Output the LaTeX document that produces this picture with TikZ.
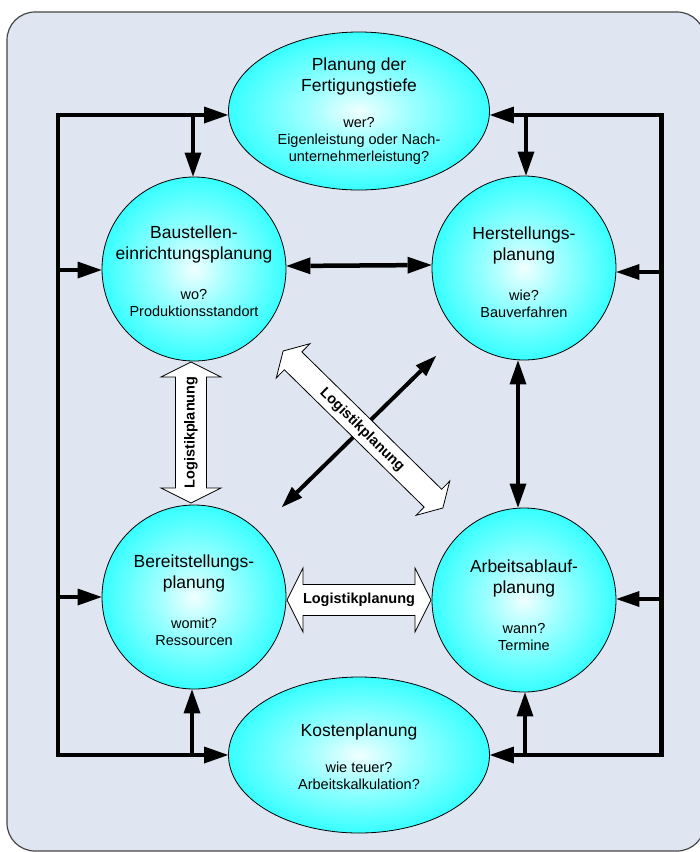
\documentclass[tikz,border=0pt]{standalone}
\usepackage{fontspec}
\setmainfont{Liberation Sans}
\usetikzlibrary{arrows.meta,shapes.geometric,calc}

\definecolor{panel}{RGB}{224,230,241}
\definecolor{panelrule}{RGB}{70,70,70}

% cyan ball with a pale centre
\pgfdeclareradialshading{glow}{\pgfpoint{0bp}{0bp}}{%
  rgb(0bp)=(0.94,1,1); rgb(10bp)=(0.62,1,1); rgb(33bp)=(0,1,1); rgb(50bp)=(0,1,1)}

\newcommand\headfont{\fontsize{17.5}{21}\selectfont}
\newcommand\notefont{\fontsize{14.5}{17}\selectfont}

\tikzset{
  ball/.style={circle, draw=black, line width=0.8pt, shading=glow,
    minimum size=184pt, inner sep=0pt},
  egg/.style={ellipse, draw=black, line width=0.8pt, shading=glow,
    minimum width=261pt, minimum height=158pt, inner sep=0pt},
  caption/.style={align=center, inner sep=0pt, font=\notefont},
  flow/.style={line width=4.5pt, line join=miter,
    -{Triangle[length=24pt,width=17pt,line width=0pt]}},
  thinflow/.style={line width=3.5pt,
    -{Triangle[length=23pt,width=16pt,line width=0pt]}},
  both/.style={line width=4.5pt,
    {Triangle[length=24pt,width=17pt,line width=0pt]}-{Triangle[length=24pt,width=17pt,line width=0pt]}},
  slimboth/.style={line width=4pt,
    {Triangle[length=21pt,width=15pt,line width=0pt]}-{Triangle[length=21pt,width=15pt,line width=0pt]}},
  blockarrow/.style={draw=black, fill=white, line width=0.8pt, line join=miter},
  blocktext/.style={font=\bfseries\notefont, inner sep=0pt}
}

\begin{document}
\begin{tikzpicture}[x=1pt,y=-1pt]
\useasboundingbox (0,0) rectangle (700,852);
\clip (0,0) rectangle (700,852);
\fill[white] (0,0) rectangle (700,852);

% panel
\draw[panelrule, line width=1.2pt, fill=panel, rounded corners=28pt]
  (7,12) rectangle (705,851);

% planning fields
\node[egg]  (top) at (359,111) {};
\node[ball] (bau) at (194,269) {};
\node[ball] (her) at (524,268) {};
\node[ball] (ber) at (194,597) {};
\node[ball] (arb) at (524,600) {};
\node[egg, minimum height=156pt] (kos) at (359,755) {};

\node[caption] (top-text) at (359,111.4)
  {{\headfont Planung der}\\[4pt]{\headfont Fertigungstiefe}\\[19.5pt]wer?\\Eigenleistung oder Nach-\\unternehmerleistung?};
\node[caption] (bau-text) at (194,271.1)
  {{\headfont Baustellen-}\\[4pt]{\headfont einrichtungsplanung}\\[23pt]wo?\\Produktionsstandort};
\node[caption] (her-text) at (524,272)
  {{\headfont Herstellungs-}\\[4pt]{\headfont planung}\\[23pt]wie?\\Bauverfahren};
\node[caption] (ber-text) at (194,600.1)
  {{\headfont Bereitstellungs-}\\[4pt]{\headfont planung}\\[23pt]womit?\\Ressourcen};
\node[caption] (arb-text) at (524,605.1)
  {{\headfont Arbeitsablauf-}\\[4pt]{\headfont planung}\\[23pt]wann?\\Termine};
\node[caption] (kos-text) at (359,756.9)
  {{\headfont Kostenplanung}\\[19.5pt]wie teuer?\\Arbeitskalkulation?};

% outer feedback loop
\coordinate (tl) at (58,115);
\coordinate (bl) at (58,755);
\coordinate (tr) at (661.5,115);
\coordinate (br) at (661.5,755);

\draw[flow] (bl) -- (tl) -- (tl -| top.west);
\draw[flow] (tl) -- (bl) -- (bl -| kos.west);
\draw[flow] (br) -- (tr) -- (tr -| top.east);
\draw[flow] (tr) -- (br) -- (br -| kos.east);

\coordinate (tlb) at (193,115);
\coordinate (blb) at (192,755);
\coordinate (trb) at (526,115);
\coordinate (brb) at (525,755);
\draw[flow] (tlb) -- (tlb |- bau.north);
\draw[flow] (blb) -- (blb |- ber.south);
\draw[flow] (trb) -- (trb |- her.north);
\draw[flow] (brb) -- (brb |- arb.south);

\coordinate (lb1) at (58,270);
\coordinate (lb2) at (58,597);
\coordinate (rb1) at (661.5,272);
\coordinate (rb2) at (661.5,599);
\draw[flow] (lb1) -- (lb1 -| bau.west);
\draw[flow] (lb2) -- (lb2 -| ber.west);
\draw[thinflow] (rb1) -- (rb1 -| her.east);
\draw[thinflow] (rb2) -- (rb2 -| arb.east);

% direct links between the fields
\draw[both] ([yshift=3pt]bau.east) -- ([yshift=3pt]her.west);
\draw[both] ([xshift=-6pt]her.south) -- ([xshift=-6pt]arb.north);
\coordinate (dg1) at (282,507);
\coordinate (dg2) at (436,356);
\draw[slimboth] (dg1) -- (dg2);

% logistics block arrows
\begin{scope}[shift={(191,432.5)}, rotate=90]
  \draw[blockarrow] (-70.5,0) -- (-55.5,30) -- (-55.5,15.5) -- (55.5,15.5) -- (55.5,30)
    -- (70.5,0) -- (55.5,-30) -- (55.5,-15.5) -- (-55.5,-15.5) -- (-55.5,-30) -- cycle;
\end{scope}
\node[blocktext, rotate=90] (log-v) at (191,432.5) {Logistikplanung};

\begin{scope}[shift={(359,600)}]
  \draw[blockarrow] (-72,0) -- (-56,32) -- (-56,15.5) -- (56,15.5) -- (56,32)
    -- (72,0) -- (56,-32) -- (56,-15.5) -- (-56,-15.5) -- (-56,-32) -- cycle;
\end{scope}
\node[blocktext] (log-h) at (359,600) {Logistikplanung};

\begin{scope}[shift={(363,429.5)}, rotate=-44.5]
  \draw[blockarrow] (-112,0) -- (-98,24) -- (-98,12.5) -- (98,12.5) -- (98,24)
    -- (112,0) -- (98,-24) -- (98,-12.5) -- (-98,-12.5) -- (-98,-24) -- cycle;
\end{scope}
\node[blocktext, rotate=-44.5] (log-d) at (362,430) {Logistikplanung};
\end{tikzpicture}
\end{document}
